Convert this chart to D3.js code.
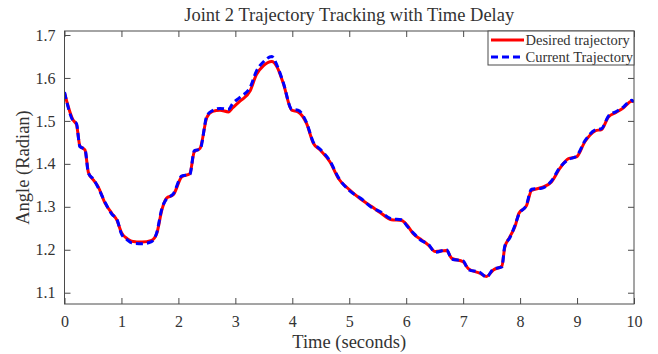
<!DOCTYPE html>
<html>
<head>
<meta charset="utf-8">
<script src="https://cdn.jsdelivr.net/npm/d3@7"></script>
<style>
  html, body { margin: 0; padding: 0; background: #fff; }
  svg { display: block; }
  text { font-family: "Liberation Serif", "Times New Roman", serif; fill: #333; }
</style>
</head>
<body>
<svg id="chart" width="658" height="354"></svg>
<script>
// Sample times (s)
const times = [0, 0.15, 0.21, 0.27, 0.36, 0.42, 0.51, 0.59, 0.71, 0.83, 0.92, 1.0, 1.1, 1.18, 1.36, 1.53, 1.62, 1.71, 1.79, 1.91,
  2.06, 2.2, 2.28, 2.38, 2.5, 2.6, 2.73, 2.88, 2.95, 3.08, 3.26, 3.37, 3.49, 3.64, 3.73, 3.84, 3.99, 4.1, 4.25, 4.37,
  4.49, 4.66, 4.81, 5.0, 5.2, 5.4, 5.54, 5.74, 5.92, 6.01, 6.12, 6.27, 6.39, 6.51, 6.71, 6.8, 7.0, 7.09, 7.3, 7.41,
  7.53, 7.68, 7.73, 7.82, 7.91, 7.98, 8.11, 8.2, 8.38, 8.55, 8.7, 8.85, 8.99, 9.14, 9.32, 9.43, 9.55, 9.69, 9.81, 9.96, 10.0];

// Desired joint angle (rad)
const desired = [1.565, 1.502, 1.492, 1.442, 1.432, 1.380, 1.362, 1.347, 1.309, 1.285, 1.269, 1.240, 1.226, 1.220, 1.218, 1.222, 1.238, 1.293, 1.320, 1.328,
  1.370, 1.377, 1.428, 1.436, 1.508, 1.522, 1.525, 1.521, 1.530, 1.546, 1.570, 1.608, 1.628, 1.638, 1.626, 1.588, 1.525, 1.521, 1.494, 1.448,
  1.432, 1.405, 1.366, 1.340, 1.318, 1.300, 1.287, 1.270, 1.268, 1.258, 1.238, 1.223, 1.211, 1.196, 1.198, 1.180, 1.172, 1.156, 1.145, 1.138,
  1.153, 1.162, 1.205, 1.230, 1.254, 1.285, 1.302, 1.338, 1.345, 1.358, 1.390, 1.412, 1.416, 1.452, 1.477, 1.480, 1.509, 1.520, 1.530, 1.546, 1.545];

// Measured joint angle under time delay (rad)
const current = [1.567, 1.500, 1.494, 1.440, 1.434, 1.378, 1.364, 1.345, 1.311, 1.283, 1.271, 1.237, 1.223, 1.216, 1.214, 1.219, 1.240, 1.296, 1.318, 1.330,
  1.372, 1.375, 1.431, 1.434, 1.512, 1.524, 1.529, 1.527, 1.540, 1.555, 1.578, 1.616, 1.637, 1.650, 1.630, 1.590, 1.527, 1.525, 1.496, 1.450,
  1.434, 1.407, 1.368, 1.338, 1.320, 1.298, 1.289, 1.272, 1.270, 1.256, 1.240, 1.221, 1.213, 1.194, 1.200, 1.178, 1.174, 1.154, 1.147, 1.136,
  1.155, 1.160, 1.208, 1.228, 1.257, 1.283, 1.304, 1.341, 1.343, 1.360, 1.392, 1.410, 1.418, 1.454, 1.479, 1.482, 1.511, 1.522, 1.532, 1.548, 1.544];

const xTicks = [0, 1, 2, 3, 4, 5, 6, 7, 8, 9, 10];
const yTicks = [1.1, 1.2, 1.3, 1.4, 1.5, 1.6, 1.7];
const seriesNames = ["Desired trajectory", "Current Trajectory"];

const plot = { left: 64.5, right: 634, top: 31, bottom: 304 };
const axisColor = "#4a4a4a";

const svg = d3.select("#chart");
const x = d3.scaleLinear().domain([0, 10]).range([plot.left, plot.right]);
const y = d3.scaleLinear().domain([1.0737, 1.7093]).range([plot.bottom, plot.top]);

// Traces
const line = d3.line().x(d => x(d[0])).y(d => y(d[1])).curve(d3.curveMonotoneX);
svg.append("clipPath").attr("id", "plotclip").append("rect")
  .attr("x", plot.left).attr("y", plot.top)
  .attr("width", plot.right - plot.left).attr("height", plot.bottom - plot.top);

const g = svg.append("g").attr("clip-path", "url(#plotclip)");
g.append("path")
  .datum(times.map((t, i) => [t, desired[i]]))
  .attr("d", line).attr("fill", "none")
  .attr("stroke", "#ff0000").attr("stroke-width", 3);
g.append("path")
  .datum(times.map((t, i) => [t, current[i]]))
  .attr("d", line).attr("fill", "none")
  .attr("stroke", "#0000ff").attr("stroke-width", 3)
  .attr("stroke-dasharray", "7,4");

// Axes with inward ticks on all four sides
function styleAxis(sel) {
  sel.select(".domain").remove();
  sel.selectAll(".tick line").attr("stroke", axisColor);
  sel.selectAll(".tick text").attr("fill", "#333")
    .style("font-family", '"Liberation Serif", "Times New Roman", serif')
    .style("font-size", "16px");
}
svg.append("g").attr("transform", `translate(0,${plot.bottom})`)
  .call(d3.axisBottom(x).tickValues(xTicks).tickFormat(d3.format("d")).tickSizeInner(-6).tickPadding(12))
  .call(styleAxis);
svg.append("g").attr("transform", `translate(0,${plot.top})`)
  .call(d3.axisTop(x).tickValues(xTicks).tickFormat("").tickSizeInner(-6))
  .call(styleAxis);
svg.append("g").attr("transform", `translate(${plot.left},0)`)
  .call(d3.axisLeft(y).tickValues(yTicks).tickFormat(d3.format(".1f")).tickSizeInner(-6).tickPadding(9))
  .call(styleAxis);
svg.append("g").attr("transform", `translate(${plot.right},0)`)
  .call(d3.axisRight(y).tickValues(yTicks).tickFormat("").tickSizeInner(-6))
  .call(styleAxis);

svg.append("rect")
  .attr("x", plot.left).attr("y", plot.top)
  .attr("width", plot.right - plot.left).attr("height", plot.bottom - plot.top)
  .attr("fill", "none").attr("stroke", axisColor).attr("stroke-width", 1);

// Title and axis labels
svg.append("text").attr("x", (plot.left + plot.right) / 2).attr("y", 21)
  .attr("text-anchor", "middle").style("font-size", "18.5px").text("Joint 2 Trajectory Tracking with Time Delay");
svg.append("text").attr("x", (plot.left + plot.right) / 2).attr("y", 348)
  .attr("text-anchor", "middle").style("font-size", "18.5px").text("Time (seconds)");
svg.append("text")
  .attr("transform", `translate(29,${(plot.top + plot.bottom) / 2}) rotate(-90)`)
  .attr("text-anchor", "middle").style("font-size", "18.5px").text("Angle (Radian)");

// Legend
const legend = svg.append("g");
legend.append("rect").attr("x", 488).attr("y", plot.top).attr("width", plot.right - 488).attr("height", 34)
  .attr("fill", "#fff").attr("stroke", axisColor).attr("stroke-width", 1);
const legendStyles = [
  { color: "#ff0000", dash: null },
  { color: "#0000ff", dash: "7,4" }
];
seriesNames.forEach((name, i) => {
  const cy = 40 + i * 17;
  legend.append("line").attr("x1", 491).attr("x2", 524).attr("y1", cy).attr("y2", cy)
    .attr("stroke", legendStyles[i].color).attr("stroke-width", 3)
    .attr("stroke-dasharray", legendStyles[i].dash);
  legend.append("text").attr("x", 525.5).attr("y", cy + 5)
    .style("font-size", "14.5px").text(name);
});
</script>
</body>
</html>
